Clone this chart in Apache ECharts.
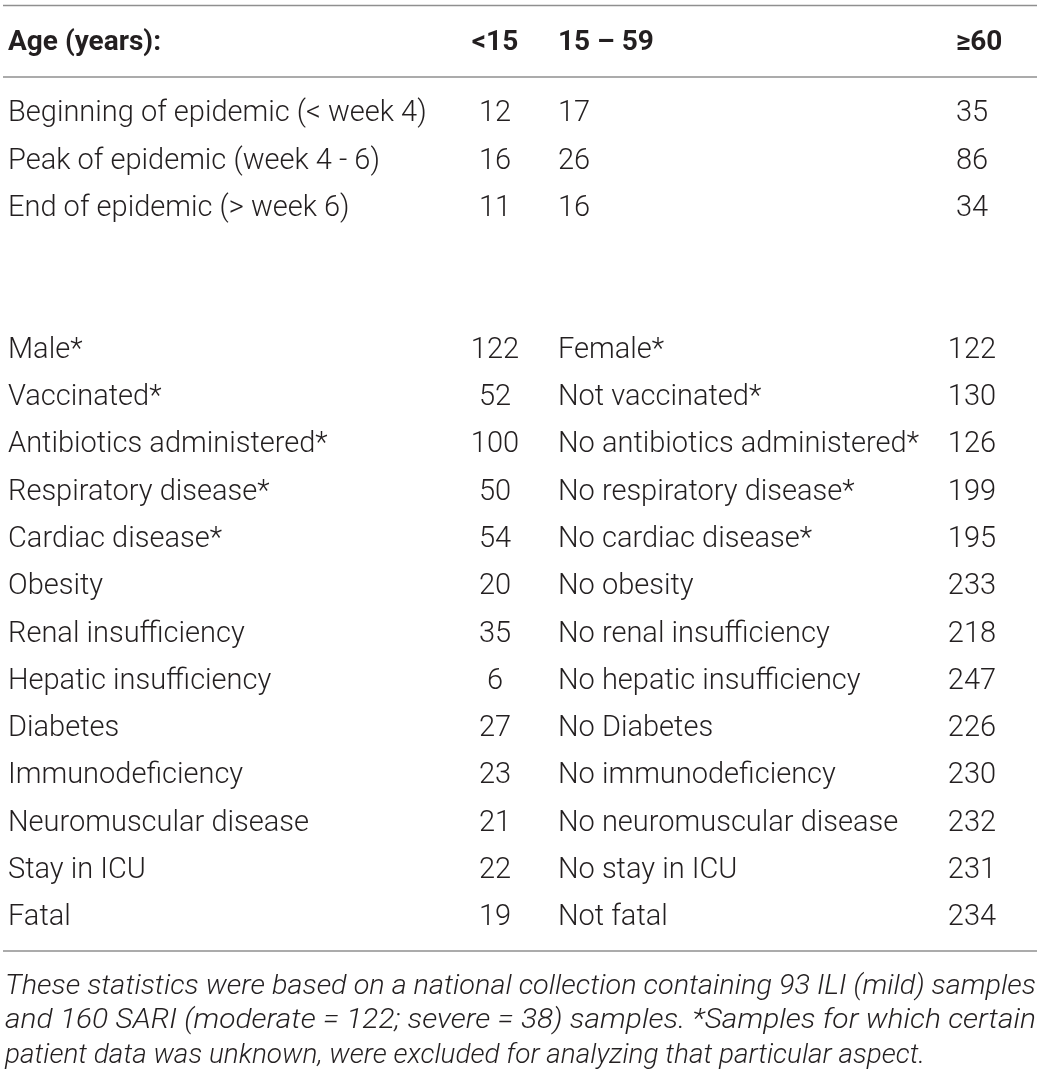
<!DOCTYPE html>
<html><head><meta charset="utf-8">
<script src="https://cdn.jsdelivr.net/npm/echarts@6/dist/echarts.min.js"></script>
<style>html,body{margin:0;padding:0;background:#fff}#c{width:1041px;height:1076px}</style>
</head><body><div id="c"></div>
<script>
// ---- data ----
const headers = ['Age (years):', '<15', '15 – 59', '≥60'];
const periodLabels = ['Beginning of epidemic (< week 4)', 'Peak of epidemic (week 4 - 6)', 'End of epidemic (> week 6)'];
const under15 = [12, 16, 11];
const age15to59 = [17, 26, 16];
const age60plus = [35, 86, 34];
const factorLabels = ['Male*', 'Vaccinated*', 'Antibiotics administered*', 'Respiratory disease*', 'Cardiac disease*', 'Obesity', 'Renal insufficiency', 'Hepatic insufficiency', 'Diabetes', 'Immunodeficiency', 'Neuromuscular disease', 'Stay in ICU', 'Fatal'];
const factorCounts = [122, 52, 100, 50, 54, 20, 35, 6, 27, 23, 21, 22, 19];
const oppositeLabels = ['Female*', 'Not vaccinated*', 'No antibiotics administered*', 'No respiratory disease*', 'No cardiac disease*', 'No obesity', 'No renal insufficiency', 'No hepatic insufficiency', 'No Diabetes', 'No immunodeficiency', 'No neuromuscular disease', 'No stay in ICU', 'Not fatal'];
const oppositeCounts = [122, 130, 126, 199, 195, 233, 218, 247, 226, 230, 232, 231, 234];
const footnoteLines = [
  'These statistics were based on a national collection containing 93 ILI (mild) samples',
  'and 160 SARI (moderate = 122; severe = 38) samples. *Samples for which certain',
  'patient data was unknown, were excluded for analyzing that particular aspect.'
];

// ---- layout ----
const W = 1041, H = 1076;
const ROW_H = 47.3, FIRST_ROW_Y = 114;
const yMin = -FIRST_ROW_Y / ROW_H, yMax = yMin + H / ROW_H;
const COL = { label: 8, c1: 495, c2: 558, c3: 972 };
const HEADER_ROW = -1.5;
const FACTOR_START = 5;
const FONT_FAMILY = "Roboto, 'Helvetica Neue', 'Liberation Sans', Arial, sans-serif";
const FONT = "300 29px " + FONT_FAMILY;
const BOLD = "bold 28px " + FONT_FAMILY;
const TEXT_COLOR = '#231f20';

// cells: [xAnchor, row, text, align, bold]
const cells = [];
cells.push([COL.label, HEADER_ROW, headers[0], 'left', 1]);
cells.push([COL.c1, HEADER_ROW, headers[1], 'center', 1]);
cells.push([COL.c2, HEADER_ROW, headers[2], 'left', 1]);
cells.push([COL.c3 + 7, HEADER_ROW, headers[3], 'center', 1]);
periodLabels.forEach((l, i) => {
  cells.push([COL.label, i, l, 'left', 0]);
  cells.push([COL.c1, i, String(under15[i]), 'center', 0]);
  cells.push([COL.c2, i, String(age15to59[i]), 'left', 0]);
  cells.push([COL.c3, i, String(age60plus[i]), 'center', 0]);
});
factorLabels.forEach((l, i) => {
  const r = FACTOR_START + i;
  cells.push([COL.label, r, l, 'left', 0]);
  cells.push([COL.c1, r, String(factorCounts[i]), 'center', 0]);
  cells.push([COL.c2, r, oppositeLabels[i], 'left', 0]);
  cells.push([COL.c3, r, String(oppositeCounts[i]), 'center', 0]);
});

// footnote horizontal scale (condensed, justified look)
const FOOT_FONT = "italic 300 27px " + FONT_FAMILY;
const FOOT_WIDTHS = [1031, 1031, 920];
const ctx = document.createElement('canvas').getContext('2d');
ctx.font = FOOT_FONT;
const footScales = footnoteLines.map((t, i) => FOOT_WIDTHS[i] / ctx.measureText(t).width);

const chart = echarts.init(document.getElementById('c'), null, { renderer: 'canvas' });
const lineStyle = { stroke: '#8f8f8f', lineWidth: 1.6 };
chart.setOption({
  backgroundColor: '#fff',
  animation: false,
  grid: { left: 0, right: 0, top: 0, bottom: 0 },
  xAxis: { type: 'value', min: 0, max: W, show: false },
  yAxis: { type: 'value', min: yMin, max: yMax, inverse: true, show: false },
  series: [{
    type: 'custom',
    data: cells,
    renderItem: function (params, api) {
      const c = cells[params.dataIndex];
      const p = api.coord([c[0], c[1]]);
      return {
        type: 'text',
        x: p[0], y: p[1],
        style: {
          text: c[2], textAlign: c[3], textVerticalAlign: 'middle',
          font: c[4] ? BOLD : FONT, fill: TEXT_COLOR
        }
      };
    }
  }],
  graphic: [
    { type: 'line', shape: { x1: 3, y1: 5.5, x2: 1037, y2: 5.5 }, style: lineStyle },
    { type: 'line', shape: { x1: 3, y1: 77, x2: 1037, y2: 77 }, style: lineStyle },
    { type: 'line', shape: { x1: 3, y1: 951, x2: 1037, y2: 951 }, style: lineStyle }
  ].concat(footnoteLines.map((t, i) => ({
    type: 'text', x: 5, y: 987 + i * 34.5, scaleX: footScales[i],
    style: { text: t, font: FOOT_FONT, fill: TEXT_COLOR, textVerticalAlign: 'middle', textAlign: 'left' }
  })))
});
</script></body></html>
